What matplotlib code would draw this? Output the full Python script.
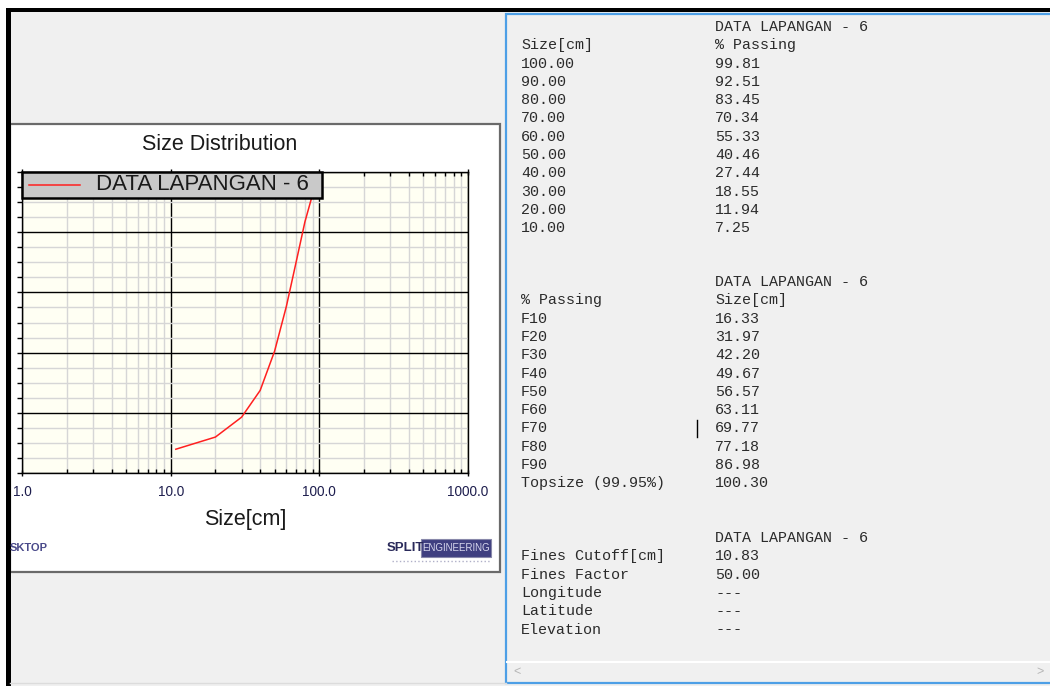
import matplotlib
matplotlib.use("Agg")
import matplotlib.pyplot as plt
from matplotlib.patches import Rectangle
from matplotlib.ticker import LogLocator, MultipleLocator, FuncFormatter, NullFormatter

# --- data ---
SERIES = "DATA LAPANGAN - 6"
SIZES = [100.0, 90.0, 80.0, 70.0, 60.0, 50.0, 40.0, 30.0, 20.0, 10.0]
PASSING = [99.81, 92.51, 83.45, 70.34, 55.33, 40.46, 27.44, 18.55, 11.94, 7.25]
# curve starts at the fines cutoff, not at 10.00
CURVE_SIZE = [10.83, 20.0, 30.0, 40.0, 50.0, 60.0, 70.0, 80.0, 90.0, 100.0]
CURVE_PASS = [7.9, 11.94, 18.55, 27.44, 40.46, 55.33, 70.34, 83.45, 92.51, 99.81]
F_LABELS = ["F10", "F20", "F30", "F40", "F50", "F60", "F70", "F80", "F90", "Topsize (99.95%)"]
F_SIZES = [16.33, 31.97, 42.20, 49.67, 56.57, 63.11, 69.77, 77.18, 86.98, 100.30]
INFO_LABELS = ["Fines Cutoff[cm]", "Fines Factor", "Longitude", "Latitude", "Elevation"]
INFO_VALUES = ["10.83", "50.00", "---", "---", "---"]

W, H = 1050, 686
SANS = "Liberation Sans"
MONO = "Liberation Mono"
TXT = "#2b2b2b"

fig = plt.figure(figsize=(W / 100, H / 100), dpi=100, facecolor="white")

# pixel-space background axes (y down)
bg = fig.add_axes([0, 0, 1, 1], zorder=0)
bg.set_xlim(0, W); bg.set_ylim(H, 0); bg.axis("off")

bg.add_patch(Rectangle((6, 8), W, H, fc="#f0f0f0", ec="none"))
# chart panel
bg.add_patch(Rectangle((10, 124), 490, 448, fc="white", ec="#6a6a6a", lw=1.6))
# window frame
bg.add_patch(Rectangle((6, 8), W, 3.5, fc="black", ec="none"))
bg.add_patch(Rectangle((6, 8), 4.5, H, fc="black", ec="none"))
bg.plot([10, 506], [683, 683], color="#dcdcdc", lw=1)

# text panel
bg.add_patch(Rectangle((506, 14), 560, 669, fc="#f0f0f0", ec="#4d9fe6", lw=1.6))
bg.plot([507, W], [662, 662], color="white", lw=1.5)
bg.text(517, 672, "<", color="#b5b5b5", fontsize=9, ha="center", va="center", family=SANS)
bg.text(1040, 672, ">", color="#b5b5b5", fontsize=9, ha="center", va="center", family=SANS)

C1, C2 = 521, 715
FS = 10.8
STEP = 18.3


def row(y, a, b):
    if a:
        bg.text(C1, y, a, family=MONO, fontsize=FS, color=TXT, va="center", ha="left")
    if b:
        bg.text(C2, y, b, family=MONO, fontsize=FS, color=TXT, va="center", ha="left")


# block 1: size vs % passing
row(27, "", SERIES)
row(27 + STEP, "Size[cm]", "% Passing")
for i, (s, p) in enumerate(zip(SIZES, PASSING)):
    row(27 + STEP * (i + 2), f"{s:.2f}", f"{p:.2f}")

# block 2: F-values
row(282, "", SERIES)
row(282 + STEP, "% Passing", "Size[cm]")
for i, (lab, s) in enumerate(zip(F_LABELS, F_SIZES)):
    row(282 + STEP * (i + 2), lab, f"{s:.2f}")
bg.plot([697, 697], [420, 437], color="black", lw=1)   # text cursor

# block 3: info
row(538, "", SERIES)
for i, (lab, v) in enumerate(zip(INFO_LABELS, INFO_VALUES)):
    row(538 + STEP * (i + 1), lab, v)

# chart texts
bg.text(220, 145, "Size Distribution", family=SANS, fontsize=15.5, color="#1a1a1a",
        ha="center", va="center")
bg.text(245, 520, "Size[cm]", family=SANS, fontsize=15.5, color="#1a1a1a",
        ha="center", va="center")
bg.text(10, 548, "SKTOP", family=SANS, fontsize=8, fontweight="bold", color="#4a4a8a",
        ha="left", va="center")
bg.text(405, 548, "SPLIT", family=SANS, fontsize=9.5, fontweight="bold", color="#2a2a5a",
        ha="center", va="center")
bg.add_patch(Rectangle((421, 539), 70, 18, fc="#3f3f80", ec="#8888aa", lw=0.8))
bg.text(456, 548, "ENGINEERING", family=SANS, fontsize=7, color="#d8d8ee",
        ha="center", va="center")
bg.plot([392, 490], [561, 561], color="#b0b0c8", lw=1, ls=":")

# --- size distribution plot ---
x0, x1, y0, y1 = 22, 468, 172, 473
ax = fig.add_axes([x0 / W, 1 - y1 / H, (x1 - x0) / W, (y1 - y0) / H], zorder=1)
ax.set_facecolor("#fffff3")
ax.set_xscale("log")
ax.set_xlim(1, 1000)
ax.set_ylim(0, 100)
ax.xaxis.set_major_locator(LogLocator(base=10, numticks=10))
ax.xaxis.set_minor_locator(LogLocator(base=10, subs=range(2, 10), numticks=20))
ax.xaxis.set_major_formatter(FuncFormatter(lambda v, _: f"{v:.1f}"))
ax.xaxis.set_minor_formatter(NullFormatter())
ax.yaxis.set_major_locator(MultipleLocator(20))
ax.yaxis.set_minor_locator(MultipleLocator(5))
ax.set_axisbelow(True)
ax.grid(which="major", color="black", lw=1)
ax.grid(which="minor", color="#d6d6d6", lw=1)
ax.tick_params(axis="x", which="major", direction="inout", length=5, width=1,
               top=True, labelsize=9.8, labelcolor="#1e1e4e", pad=6)
ax.tick_params(axis="x", which="minor", direction="in", length=3, width=1, top=True)
ax.tick_params(axis="y", which="both", direction="out", length=3.5, width=1,
               labelleft=False)
for lab in ax.get_xticklabels():
    lab.set_family(SANS)
for sp in ax.spines.values():
    sp.set_color("black"); sp.set_linewidth(1)

ax.plot(CURVE_SIZE, CURVE_PASS, color="#ff2020", lw=1.1, zorder=3, label=SERIES)

# legend box in the top-left corner of the plot
lw_ax = 300 / (x1 - x0)
lh_ax = 26 / (y1 - y0)
ax.add_patch(Rectangle((0, 1 - lh_ax), lw_ax, lh_ax, transform=ax.transAxes,
                       fc="#c9c9c9", ec="black", lw=1.8, zorder=6, clip_on=False))
ly = 1 - lh_ax / 2
ax.plot([7 / (x1 - x0), 58 / (x1 - x0)], [ly, ly], transform=ax.transAxes,
        color="#ff2020", lw=1.1, zorder=7, clip_on=False)
ax.text(73.5 / (x1 - x0), ly, SERIES, transform=ax.transAxes, family=SANS,
        fontsize=16, color="#1a1a1a", va="center", ha="left", zorder=7)

fig.savefig("out.png", dpi=100)
